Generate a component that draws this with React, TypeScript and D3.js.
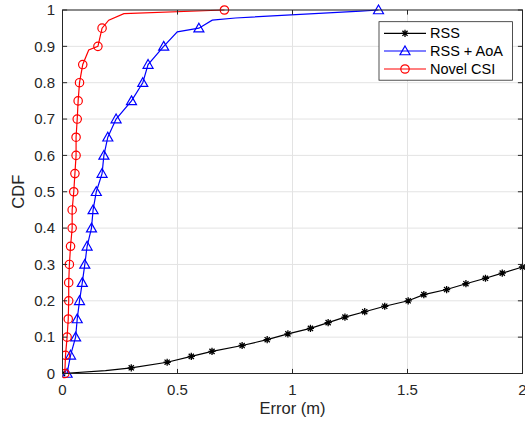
import * as d3 from 'd3'

// x ticks / y ticks
const xTicks = [0, 0.5, 1, 1.5, 2]
const xTickLabels = ['0', '0.5', '1', '1.5', '2']
const yTicks = [0, 0.1, 0.2, 0.3, 0.4, 0.5, 0.6, 0.7, 0.8, 0.9, 1]
const yTickLabels = ['0', '0.1', '0.2', '0.3', '0.4', '0.5', '0.6', '0.7', '0.8', '0.9', '1']

// RSS markers
const rssErr = [0, 0.299, 0.455, 0.56, 0.65, 0.781, 0.89, 0.98, 1.078, 1.155, 1.228, 1.314, 1.401, 1.503, 1.571, 1.67, 1.754, 1.839, 1.912, 2.0]
const rssCdf = [0, 0.0157, 0.031, 0.047, 0.061, 0.077, 0.093, 0.109, 0.124, 0.14, 0.155, 0.17, 0.185, 0.2, 0.217, 0.231, 0.247, 0.262, 0.276, 0.293]
// extra line points (no marker)
const rssBendErr = [0.187]
const rssBendCdf = [0.008]

// marker levels for RSS + AoA and Novel CSI
const cdfLevels = [0, 0.05, 0.1, 0.15, 0.2, 0.25, 0.3, 0.35, 0.4, 0.45, 0.5, 0.55, 0.6, 0.65, 0.7, 0.75, 0.8, 0.85, 0.9, 0.95, 1]
const aoaErr = [0.02, 0.035, 0.057, 0.064, 0.074, 0.086, 0.097, 0.107, 0.126, 0.133, 0.147, 0.172, 0.18, 0.197, 0.233, 0.3, 0.349, 0.372, 0.44, 0.593, 1.374]
const aoaBendErr = [0.499, 0.651, 0.752, 1.296]
const aoaBendCdf = [0.94, 0.972, 0.978, 0.997]
const csiErr = [0.01, 0.013, 0.02, 0.025, 0.027, 0.027, 0.03, 0.035, 0.042, 0.042, 0.049, 0.054, 0.059, 0.059, 0.064, 0.068, 0.074, 0.088, 0.154, 0.172, 0.704]
const csiBendErr = [0.114, 0.201, 0.267]
const csiBendCdf = [0.89, 0.972, 0.99]

const legendNames = ['RSS', 'RSS + AoA', 'Novel CSI']
const colors = ['#000000', '#0000ff', '#ff0000']

type P = [number, number]

const zip = (a: number[], b: number[]): P[] => a.map((v, i) => [v, b[i]])
const merged = (m: P[], extra: P[]): P[] =>
  [...m, ...extra].sort((p, q) => p[1] - q[1] || p[0] - q[0])

const W = 525
const H = 423
const left = 62.5
const right = 522.5
const top = 10
const bottom = 373.5
const axisColor = '#262626'
const gridColor = '#e3e3e3'
const font = '"Liberation Sans", Arial, Helvetica, sans-serif'

function Marker({ kind, x, y, color }: { kind: number; x: number; y: number; color: string }) {
  if (kind === 0) {
    const r = 3.6
    const d = r * 0.72
    return (
      <path
        d={`M${x - r},${y}L${x + r},${y}M${x},${y - r}L${x},${y + r}M${x - d},${y - d}L${x + d},${y + d}M${x - d},${y + d}L${x + d},${y - d}`}
        stroke={color}
        strokeWidth={1.3}
        fill="none"
      />
    )
  }
  if (kind === 1) {
    const s = 5
    return (
      <path
        d={`M${x},${y - s}L${x + s},${y + s * 0.75}L${x - s},${y + s * 0.75}Z`}
        stroke={color}
        strokeWidth={1.2}
        fill="none"
      />
    )
  }
  return <circle cx={x} cy={y} r={4.2} stroke={color} strokeWidth={1.2} fill="none" />
}

export default function App() {
  const x = d3.scaleLinear().domain([0, 2]).range([left, right])
  const y = d3.scaleLinear().domain([0, 1]).range([bottom, top])

  const rssMarks = zip(rssErr, rssCdf)
  const aoaMarks = zip(aoaErr, cdfLevels)
  const csiMarks = zip(csiErr, cdfLevels)
  const series = [
    { marks: rssMarks, line: merged(rssMarks, zip(rssBendErr, rssBendCdf)) },
    { marks: aoaMarks, line: merged(aoaMarks, zip(aoaBendErr, aoaBendCdf)) },
    { marks: csiMarks, line: merged(csiMarks, zip(csiBendErr, csiBendCdf)) },
  ]

  const line = d3
    .line<P>()
    .x((d) => x(d[0]))
    .y((d) => y(d[1]))

  const tickLen = 4.6
  const legX = 379
  const legY = 21.7
  const legW = 133.5
  const legH = 58.5
  const legRows = [33.3, 51, 69]

  return (
    <svg
      width={W}
      height={H}
      style={{ position: 'absolute', left: 0, top: 0, background: '#fff' }}
      fontFamily={font}
    >
      <defs>
        <clipPath id="plot">
          <rect x={left} y={top - 6} width={right - left + 6} height={bottom - top + 12} />
        </clipPath>
      </defs>
      <rect x={left} y={top} width={right - left} height={bottom - top} fill="#fff" />
      {/* grid */}
      {xTicks.map((t) => (
        <line key={'gx' + t} x1={x(t)} x2={x(t)} y1={top} y2={bottom} stroke={gridColor} strokeWidth={1} />
      ))}
      {yTicks.map((t) => (
        <line key={'gy' + t} x1={left} x2={right} y1={y(t)} y2={y(t)} stroke={gridColor} strokeWidth={1} />
      ))}
      {/* series */}
      <g clipPath="url(#plot)">
        {series.map((s, i) => (
          <g key={i}>
            <path d={line(s.line) ?? ''} fill="none" stroke={colors[i]} strokeWidth={1.2} />
            {s.marks.map((p, j) => (
              <Marker key={j} kind={i} x={x(p[0])} y={y(p[1])} color={colors[i]} />
            ))}
          </g>
        ))}
      </g>
      {/* box */}
      <rect x={left} y={top} width={right - left} height={bottom - top} fill="none" stroke={axisColor} strokeWidth={1} />
      {xTicks.map((t) => (
        <g key={'tx' + t}>
          <line x1={x(t)} x2={x(t)} y1={bottom} y2={bottom - tickLen} stroke={axisColor} />
          <line x1={x(t)} x2={x(t)} y1={top} y2={top + tickLen} stroke={axisColor} />
        </g>
      ))}
      {yTicks.map((t) => (
        <g key={'ty' + t}>
          <line x1={left} x2={left + tickLen} y1={y(t)} y2={y(t)} stroke={axisColor} />
          <line x1={right} x2={right - tickLen} y1={y(t)} y2={y(t)} stroke={axisColor} />
        </g>
      ))}
      {/* tick labels */}
      {xTicks.map((t, i) => (
        <text key={'lx' + t} x={x(t)} y={395} textAnchor="middle" fontSize={15} fill={axisColor}>
          {xTickLabels[i]}
        </text>
      ))}
      {yTicks.map((t, i) => (
        <text key={'ly' + t} x={55} y={y(t) + 5.3} textAnchor="end" fontSize={15} fill={axisColor}>
          {yTickLabels[i]}
        </text>
      ))}
      {/* axis labels */}
      <text x={(left + right) / 2} y={414} textAnchor="middle" fontSize={16.5} fill={axisColor}>
        Error (m)
      </text>
      <text
        transform={`translate(24, ${(top + bottom) / 2}) rotate(-90)`}
        textAnchor="middle"
        fontSize={16.5}
        fill={axisColor}
      >
        CDF
      </text>
      {/* legend */}
      <rect x={legX} y={legY} width={legW} height={legH} fill="#fff" stroke={axisColor} strokeWidth={0.8} />
      {legendNames.map((name, i) => (
        <g key={name}>
          <line x1={384} x2={426} y1={legRows[i]} y2={legRows[i]} stroke={colors[i]} strokeWidth={1.2} />
          <Marker kind={i} x={405} y={legRows[i]} color={colors[i]} />
          <text x={430} y={legRows[i] + 5} fontSize={14.5} fill="#000">
            {name}
          </text>
        </g>
      ))}
    </svg>
  )
}
